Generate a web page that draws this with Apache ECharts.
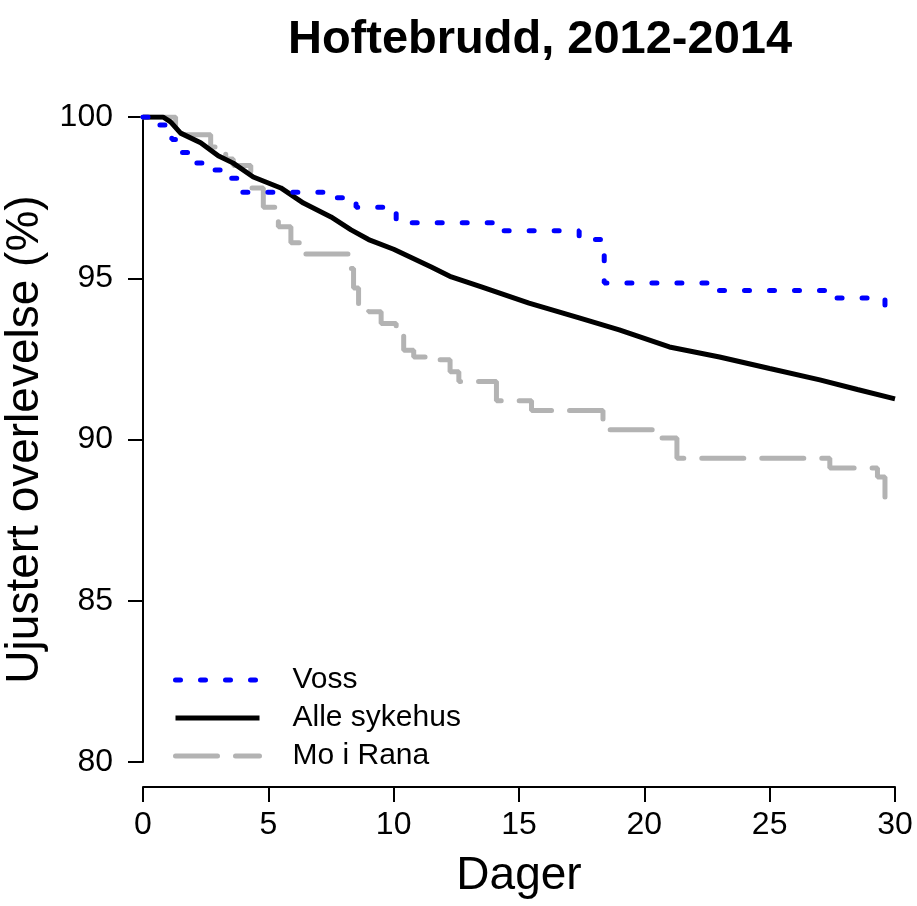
<!DOCTYPE html>
<html>
<head>
<meta charset="utf-8">
<script src="https://cdn.jsdelivr.net/npm/echarts@6/dist/echarts.min.js"></script>
<style>
  html, body { margin: 0; padding: 0; background: #fff; }
  #survChart { width: 917px; height: 906px; }
</style>
</head>
<body>
<div id="survChart"></div>
<script>
// Kaplan-Meier style curves, [dag, overlevelse %]
const vossData = [
  [0, 100], [0.5, 99.75], [1.15, 99.3], [1.55, 98.9], [1.9, 98.57], [2.5, 98.36],
  [3.1, 98.1], [3.75, 97.67], [7.45, 97.5], [8.1, 97.33], [8.5, 97.2], [10.1, 96.72],
  [14.2, 96.47], [17.4, 96.3], [18.0, 96.2], [18.4, 94.85], [22.6, 94.62],
  [27.5, 94.39], [29.6, 94.15], [30, 94.15]
];
const alleData = [
  [0, 100], [0.8, 100], [1.1, 99.85], [1.5, 99.5], [2.3, 99.2], [3.0, 98.8],
  [3.6, 98.57], [4.4, 98.14], [5.5, 97.8], [6.4, 97.33], [7.5, 96.9], [8.3, 96.5],
  [9.0, 96.2], [10.0, 95.9], [11.5, 95.35], [12.3, 95.04], [13.5, 94.73],
  [15.4, 94.23], [17.4, 93.77], [19.0, 93.4], [21.0, 92.87], [23.0, 92.56],
  [25.0, 92.2], [27.0, 91.85], [28.5, 91.55], [30, 91.26]
];
const moiranaData = [
  [0, 100], [1.3, 99.45], [2.7, 99.07], [3.3, 98.7], [3.6, 98.5], [4.3, 97.8],
  [4.8, 97.2], [5.4, 96.6], [5.9, 96.1], [6.4, 95.75], [8.2, 95.3], [8.4, 94.7],
  [8.6, 94.2], [9.0, 93.96], [9.5, 93.6], [10.1, 93.24], [10.4, 92.77],
  [10.8, 92.56], [11.8, 92.47], [12.25, 92.1], [12.6, 91.8], [14.1, 91.2],
  [15.5, 90.9], [18.35, 90.3], [20.6, 90.05], [21.3, 89.42], [27.4, 89.12],
  [29.3, 88.84], [29.6, 88.1]
];
const seriesNames = ["Voss", "Alle sykehus", "Mo i Rana"];
const xTicks = [0, 5, 10, 15, 20, 25, 30];
const yTicks = [80, 85, 90, 95, 100];

const fontName = "Liberation Sans";
const vossLine = { color: "#0000ff", width: 5, type: [5, 20], cap: "round" };
const alleLine = { color: "#000", width: 5, type: "solid" };
const moLine = { color: "#b3b3b3", width: 5, type: [42, 18], cap: "round" };

const chart = echarts.init(document.getElementById("survChart"));
chart.setOption({
  animation: false,
  backgroundColor: "#fff",
  title: {
    text: "Hoftebrudd, 2012-2014",
    left: 535,
    textAlign: "center",
    top: 12,
    textStyle: {
      fontFamily: fontName,
      fontWeight: "bold",
      fontSize: 47,
      color: "#000",
    },
  },
  grid: {
    left: 143,
    right: 22,
    top: 117,
    bottom: 144,
    containLabel: false,
    outerBoundsMode: "none",
  },
  legend: {
    data: [
      { name: seriesNames[0], lineStyle: vossLine },
      { name: seriesNames[1], lineStyle: alleLine },
      { name: seriesNames[2], lineStyle: moLine },
    ],
    orient: "vertical",
    left: 168,
    top: 660,
    itemWidth: 84,
    itemHeight: 14,
    itemGap: 8,
    itemStyle: { opacity: 0 },
    textStyle: {
      fontFamily: fontName,
      fontSize: 30,
      lineHeight: 30,
      color: "#000",
      padding: [0, 0, 0, 28],
    },
  },
  xAxis: {
    type: "value",
    min: xTicks[0],
    max: xTicks[xTicks.length - 1],
    interval: 5,
    offset: 25,
    name: "Dager",
    nameLocation: "middle",
    nameGap: 66,
    nameTextStyle: { fontFamily: fontName, fontSize: 46, color: "#000" },
    axisLine: { show: true, lineStyle: { color: "#000", width: 2 } },
    axisTick: { show: true, length: 15, lineStyle: { color: "#000", width: 2 } },
    axisLabel: { fontFamily: fontName, fontSize: 32, color: "#000", margin: 22 },
    splitLine: { show: false },
  },
  yAxis: {
    type: "value",
    min: yTicks[0],
    max: yTicks[yTicks.length - 1],
    interval: 5,
    name: "Ujustert overlevelse (%)",
    nameLocation: "middle",
    nameGap: 84,
    nameTextStyle: { fontFamily: fontName, fontSize: 46, color: "#000" },
    axisLine: { show: true, lineStyle: { color: "#000", width: 2 } },
    axisTick: { show: true, length: 15, lineStyle: { color: "#000", width: 2 } },
    axisLabel: { fontFamily: fontName, fontSize: 32, color: "#000", margin: 30 },
    splitLine: { show: false },
  },
  series: [
    {
      name: "Mo i Rana",
      type: "line",
      step: "end",
      data: moiranaData,
      showSymbol: false,
      symbol: "none",
      itemStyle: { color: moLine.color },
      lineStyle: moLine,
    },
    {
      name: "Alle sykehus",
      type: "line",
      data: alleData,
      showSymbol: false,
      symbol: "none",
      itemStyle: { color: alleLine.color },
      lineStyle: alleLine,
    },
    {
      name: "Voss",
      type: "line",
      step: "end",
      data: vossData,
      showSymbol: false,
      symbol: "none",
      itemStyle: { color: vossLine.color },
      lineStyle: vossLine,
    },
  ],
});
window.addEventListener("resize", () => {
  chart.resize();
});
</script>
</body>
</html>
